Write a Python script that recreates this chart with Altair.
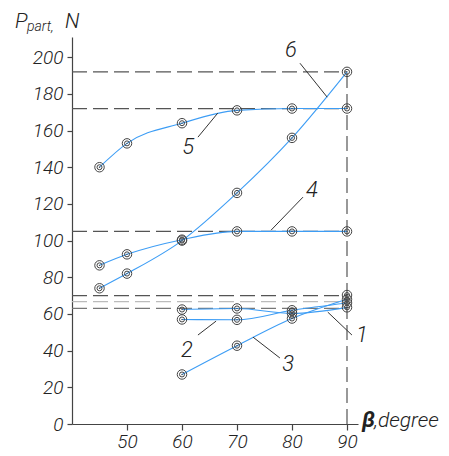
import altair as alt
import pandas as pd

# ---- data ----
beta_short = [60, 70, 80, 90]
beta_long = [45, 50, 60, 70, 80, 90]
curve1 = [62.4, 63.0, 60.3, 63.6]
curve2 = [57.0, 56.8, 62.0, 66.0]
curve3 = [27.0, 42.7, 57.5, 68.0]
curve4 = [86.5, 92.5, 100.5, 105.0, 105.0, 105.0]
curve5 = [140.0, 153.0, 164.0, 171.0, 172.0, 172.0]
curve6 = [74.0, 82.0, 100.0, 126.0, 156.0, 192.0]
extra_pt_x = [90]
extra_pt_y = [70.3]

ref_levels = [192, 172, 105, 70, 66.7, 63]
ref_colors = ["#555555", "#555555", "#555555", "#555555", "#bbbbbb", "#777777"]

label_names = ["1", "2", "3", "4", "5", "6"]
label_x = [92.7, 60.9, 79.3, 83.6, 61.1, 79.8]
label_y = [48.5, 40.3, 32.7, 127.5, 151.0, 203.8]
lead_x1 = [86.5, 66.2, 72.9, 82.0, 62.9, 81.45]
lead_y1 = [61.0, 56.1, 47.4, 123.7, 156.4, 196.7]
lead_x2 = [90.9, 62.9, 77.8, 76.2, 66.5, 86.4]
lead_y2 = [48.5, 48.5, 36.0, 105.7, 169.5, 178.2]

x_ticks = [50, 60, 70, 80, 90]
y_ticks = [0, 20, 40, 60, 80, 100, 120, 140, 160, 180, 200]

FONT = "Roboto"
FW = 300
BLUE = "#3d9df5"

rows = []
for name, xs, ys in [("1", beta_short, curve1), ("2", beta_short, curve2),
                     ("3", beta_short, curve3), ("4", beta_long, curve4),
                     ("5", beta_long, curve5), ("6", beta_long, curve6)]:
    for xv, yv in zip(xs, ys):
        rows.append({"curve": name, "beta": xv, "P": yv})
curves = pd.DataFrame(rows)
pts = pd.concat([curves[["beta", "P"]],
                 pd.DataFrame({"beta": extra_pt_x, "P": extra_pt_y})])

refs = pd.DataFrame({"lvl": ref_levels, "col": ref_colors,
                     "x1": [40] * len(ref_levels), "x2": [90] * len(ref_levels)})
vref = pd.DataFrame({"x": [90], "y1": [0], "y2": [192]})
labels = pd.DataFrame({"t": label_names, "x": label_x, "y": label_y})
leads = pd.DataFrame({"x1": lead_x1, "y1": lead_y1, "x2": lead_x2, "y2": lead_y2})

xs = alt.Scale(domain=[40, 92], nice=False, zero=False)
ys = alt.Scale(domain=[0, 211], nice=False)

xax = alt.Axis(values=x_ticks, grid=False, tickSize=6, labelPadding=2, title=None,
               labelOverlap=False, labelFont=FONT, labelFontStyle="italic",
               labelFontWeight=FW, labelFontSize=19, labelColor="#222")
yax = alt.Axis(values=y_ticks, grid=False, tickSize=5, labelPadding=4, title=None,
               labelOverlap=False, labelBound=False, labelFont=FONT, labelFontStyle="italic",
               labelFontWeight=FW, labelFontSize=19, labelColor="#222")

X = alt.X("beta:Q", scale=xs, axis=xax)
Y = alt.Y("P:Q", scale=ys, axis=yax)

hrules = alt.Chart(refs).mark_rule(strokeDash=[15, 6], strokeWidth=1.2).encode(
    x=alt.X("x1:Q", scale=xs, axis=xax), x2="x2:Q",
    y=alt.Y("lvl:Q", scale=ys, axis=yax),
    color=alt.Color("col:N", scale=None))
vrule = alt.Chart(vref).mark_rule(strokeDash=[15, 6], strokeWidth=1.2, color="#555").encode(
    x=alt.X("x:Q", scale=xs, axis=xax), y=alt.Y("y1:Q", scale=ys, axis=yax), y2="y2:Q")

lines = alt.Chart(curves).mark_line(color=BLUE, strokeWidth=1.1, interpolate="monotone").encode(
    x=X, y=Y, detail="curve:N")

outer = alt.Chart(pts).mark_point(shape="circle", size=90, filled=False, color="#444",
                                  strokeWidth=1, opacity=1).encode(x=X, y=Y)
inner = alt.Chart(pts).mark_point(shape="circle", size=25, filled=False, color="#444",
                                  strokeWidth=1, opacity=1).encode(x=X, y=Y)
center = alt.Chart(pts).mark_point(shape="circle", size=2, filled=True, color="#444",
                                   opacity=1).encode(x=X, y=Y)

leaders = alt.Chart(leads).mark_rule(color="#333", strokeWidth=1).encode(
    x=alt.X("x1:Q", scale=xs, axis=xax), y=alt.Y("y1:Q", scale=ys, axis=yax),
    x2="x2:Q", y2="y2:Q")
ltext = alt.Chart(labels).mark_text(font=FONT, fontStyle="italic", fontWeight=FW,
                                    fontSize=22, color="#222", clip=False).encode(
    x=alt.X("x:Q", scale=xs, axis=xax), y=alt.Y("y:Q", scale=ys, axis=yax), text="t:N")

title_df = pd.DataFrame({"t": ["P", "part,", "N", "β", ",degree"],
                         "px": [-57, -45, -7, 290, 302],
                         "py": [-9, -6, -9, 390, 390],
                         "fs": [21, 14, 21, 22, 21],
                         "fw": [FW, FW, FW, 700, FW]})
tparts = []
for i in range(len(title_df)):
    r = title_df.iloc[[i]]
    tparts.append(alt.Chart(r).mark_text(font=FONT, fontStyle="italic", align="left",
                                         baseline="alphabetic",
                                         fontSize=int(r["fs"].iloc[0]),
                                         fontWeight=int(r["fw"].iloc[0]),
                                         color="#222").encode(
        x=alt.value(int(r["px"].iloc[0])), y=alt.value(int(r["py"].iloc[0])), text="t:N"))

chart = alt.layer(hrules, vrule, lines, outer, inner, center, leaders, ltext, *tparts).properties(
    width=286, height=387,
    autosize=alt.AutoSizeParams(type="none"),
    padding={"left": 64, "top": 29, "right": 82, "bottom": 32},
).configure_view(stroke=None).configure_axis(
    domainColor="#444", tickColor="#444", domainWidth=1.2, tickWidth=1.2,
    labelOverlap=False)

chart.save("out.html", embed_options={"renderer": "svg", "actions": False})
